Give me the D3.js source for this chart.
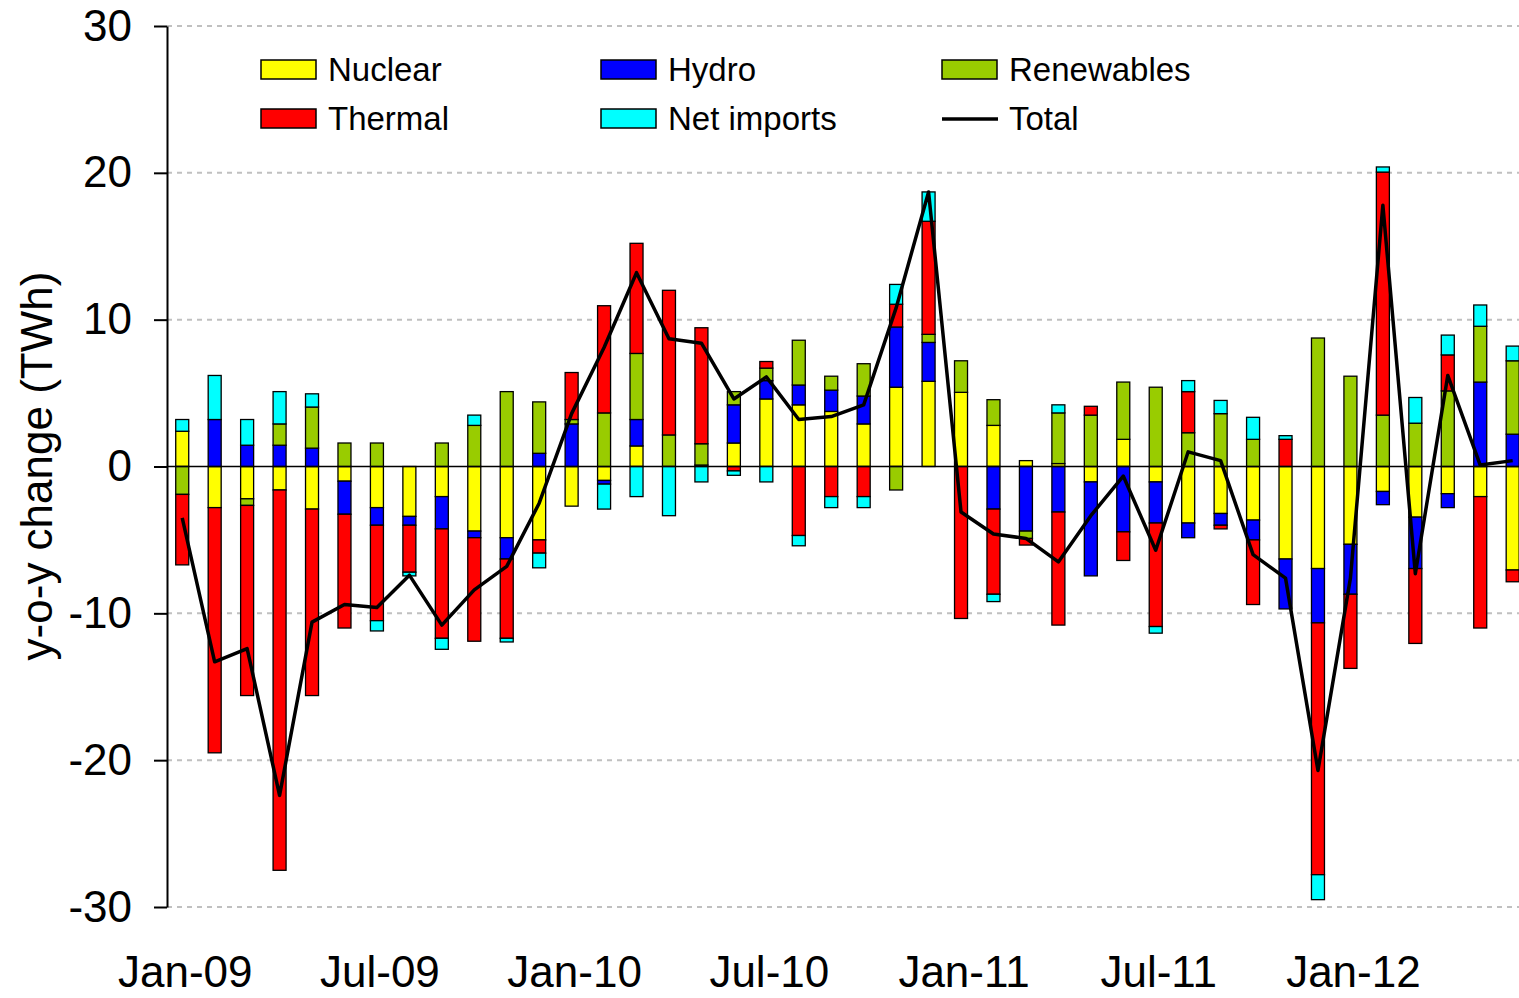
<html>
<head>
<meta charset="utf-8">
<style>
  body { margin: 0; background: #fff; }
  text { font-family: "Liberation Sans", Arial, sans-serif; fill: #000; }
</style>
</head>
<body>
<div id="chartContainer"></div>
<script src="https://cdnjs.cloudflare.com/ajax/libs/d3/7.8.5/d3.min.js"></script>
<script type="text/javascript">
  // Months on the category axis (Jan-09 .. Jun-12)
  var months = ["Jan-09","Feb-09","Mar-09","Apr-09","May-09","Jun-09","Jul-09","Aug-09","Sep-09","Oct-09","Nov-09","Dec-09",
                "Jan-10","Feb-10","Mar-10","Apr-10","May-10","Jun-10","Jul-10","Aug-10","Sep-10","Oct-10","Nov-10","Dec-10",
                "Jan-11","Feb-11","Mar-11","Apr-11","May-11","Jun-11","Jul-11","Aug-11","Sep-11","Oct-11","Nov-11","Dec-11",
                "Jan-12","Feb-12","Mar-12","Apr-12","May-12","Jun-12"];

  // y-o-y change per source (TWh)
  var nuclear = [2.4,-2.8,-2.2,-1.6,-2.9,-1.0,-2.8,-3.4,-2.05,-4.4,-4.85,-5.0,
                 -2.7,-0.95,1.4,0,0.1,1.6,4.6,4.2,3.75,2.9,5.4,5.8,
                 5.05,2.8,0.4,0.2,-1.05,1.85,-1.05,-3.85,-3.2,-3.65,-6.3,-6.95,
                 -5.3,-1.7,-3.45,-1.85,-2.05,-7.05];
  var thermal = [-4.8,-16.7,-12.95,-25.9,-12.7,-7.75,-6.5,-3.2,-7.45,-7.05,-5.4,-0.9,
                 3.2,7.3,7.5,9.85,7.9,-0.3,0.45,-4.7,-2.05,-2.05,1.55,7.7,
                 -10.35,-5.8,-0.45,-7.7,0.6,-1.95,-7.05,2.8,-0.25,-4.4,1.85,-17.15,
                 -5.05,16.55,-5.1,2.45,-8.95,-0.8];
  var hydro = [0,3.2,1.45,1.45,1.25,-2.25,-1.2,-0.6,-2.2,-0.45,-1.45,0.9,
               2.9,-0.25,1.8,0,0,2.6,1.25,1.35,1.45,1.9,4.1,2.65,
               0,-2.9,-4.4,-3.1,-6.4,-4.45,-2.8,-1.0,-0.8,-1.35,-3.4,-3.7,
               -3.4,-0.9,-3.5,-0.95,5.75,2.2];
  var renewables = [-1.9,0,-0.45,1.45,2.8,1.6,1.6,0,1.6,2.8,5.1,3.5,
                    0.3,3.65,4.5,2.15,1.45,0.9,0.85,3.05,0.95,2.2,-1.6,0.55,
                    2.15,1.75,-0.5,3.45,3.5,3.9,5.4,2.3,3.6,1.85,0,8.75,
                    6.15,3.5,2.95,5.15,3.8,5.0];
  var netImports = [0.8,3.0,1.75,2.2,0.9,0,-0.7,-0.25,-0.75,0.7,-0.25,-1.0,
                    0,-1.7,-2.05,-3.35,-1.05,-0.3,-1.05,-0.7,-0.75,-0.75,1.35,2.0,
                    0,-0.5,0,0.55,0,0,-0.45,0.75,0.9,1.5,0.25,-1.7,
                    0,0.35,1.75,1.35,1.45,1.0];
  var total = [-3.5,-13.3,-12.4,-22.4,-10.6,-9.4,-9.6,-7.4,-10.8,-8.4,-6.8,-2.5,
               3.6,8.1,13.2,8.7,8.4,4.6,6.1,3.2,3.4,4.2,10.8,18.7,
               -3.1,-4.6,-4.9,-6.5,-3.35,-0.65,-5.7,1.0,0.4,-6.0,-7.6,-20.7,
               -7.6,17.8,-7.3,6.2,0.1,0.4];

  var yTicks = [-30, -20, -10, 0, 10, 20, 30];
  var xLabels = ["Jan-09","Jul-09","Jan-10","Jul-10","Jan-11","Jul-11","Jan-12"];

  // stacking order (bottom to top on each side of zero)
  var series = [
    { key: "Nuclear",     values: nuclear,    color: "#ffff00" },
    { key: "Hydro",       values: hydro,      color: "#0000ff" },
    { key: "Renewables",  values: renewables, color: "#99cc00" },
    { key: "Thermal",     values: thermal,    color: "#ff0000" },
    { key: "Net imports", values: netImports, color: "#00ffff" }
  ];

  var W = 1519, H = 998;
  var svg = d3.select("#chartContainer").append("svg")
      .attr("width", W).attr("height", H);

  var x = d3.scaleBand().domain(months).range([166, 166 + months.length * 32.45]);
  var y = d3.scaleLinear().domain([-30, 30]).range([907, 26]);
  var barW = 13;

  // gridlines
  svg.append("g").selectAll("line")
    .data(yTicks.filter(function (d) { return d !== 0; }))
    .enter().append("line")
      .attr("x1", 167).attr("x2", W)
      .attr("y1", function (d) { return y(d); })
      .attr("y2", function (d) { return y(d); })
      .style("stroke", "#c0c0c0")
      .style("stroke-width", 2)
      .style("stroke-dasharray", "5,5");

  // stacked data
  var table = months.map(function (m, i) {
    var row = { month: m };
    series.forEach(function (s) { row[s.key] = s.values[i]; });
    return row;
  });
  var stack = d3.stack()
    .keys(series.map(function (s) { return s.key; }))
    .offset(d3.stackOffsetDiverging);
  var stacked = stack(table);

  // bars
  svg.append("g").selectAll("g")
    .data(stacked)
    .enter().append("g")
      .style("fill", function (d, i) { return series[i].color; })
    .selectAll("rect")
    .data(function (d) { return d.filter(function (p) { return p[1] !== p[0]; }); })
    .enter().append("rect")
      .attr("x", function (d) { return x(d.data.month) + x.bandwidth() / 2 - barW / 2; })
      .attr("width", barW)
      .attr("y", function (d) { return y(Math.max(d[0], d[1])); })
      .attr("height", function (d) { return Math.abs(y(d[0]) - y(d[1])); })
      .style("stroke", "#000")
      .style("stroke-width", 1.3);

  // zero line
  svg.append("line")
    .attr("x1", 167).attr("x2", W)
    .attr("y1", y(0)).attr("y2", y(0))
    .style("stroke", "#000").style("stroke-width", 1.5);

  // total line
  var line = d3.line()
    .x(function (d, i) { return x(months[i]) + x.bandwidth() / 2; })
    .y(function (d) { return y(d); });
  svg.append("path")
    .datum(total)
    .attr("d", line)
    .style("fill", "none")
    .style("stroke", "#000")
    .style("stroke-width", 3.5)
    .style("stroke-linejoin", "round");

  // y axis (plain hyphen for negatives, like the original)
  var yAxis = d3.axisLeft(y).tickValues(yTicks).tickSize(13).tickSizeOuter(0).tickPadding(22)
    .tickFormat(function (d) { return String(d); });
  var yg = svg.append("g").attr("transform", "translate(167,0)").call(yAxis);
  yg.select(".domain").style("stroke", "#000").style("stroke-width", 2);
  yg.selectAll(".tick line").style("stroke", "#000").style("stroke-width", 2);
  yg.selectAll(".tick text")
    .style("font-size", "44px")
    .style("font-family", "'Liberation Sans', Arial, sans-serif");

  svg.append("text")
    .attr("transform", "translate(52,466) rotate(-90)")
    .attr("text-anchor", "middle")
    .style("font-size", "44px")
    .text("y-o-y change (TWh)");

  // x labels every six months
  svg.append("g").selectAll("text")
    .data(xLabels)
    .enter().append("text")
      .attr("x", function (d) { return x(d) + x.bandwidth() / 2 + 3; })
      .attr("y", 987)
      .attr("text-anchor", "middle")
      .style("font-size", "44px")
      .text(function (d) { return d; });

  // legend
  var legendItems = [
    { key: "Nuclear",     color: "#ffff00", col: 0, row: 0 },
    { key: "Thermal",     color: "#ff0000", col: 0, row: 1 },
    { key: "Hydro",       color: "#0000ff", col: 1, row: 0 },
    { key: "Net imports", color: "#00ffff", col: 1, row: 1 },
    { key: "Renewables",  color: "#99cc00", col: 2, row: 0 },
    { key: "Total",       color: null,      col: 2, row: 1 }
  ];
  var colX = [261, 601, 942];
  var rowY = [69, 118];
  var lg = svg.append("g").selectAll("g")
    .data(legendItems)
    .enter().append("g")
      .attr("transform", function (d) { return "translate(" + colX[d.col] + "," + rowY[d.row] + ")"; });
  lg.filter(function (d) { return d.color; })
    .append("rect")
      .attr("x", 0).attr("y", -9)
      .attr("width", 55).attr("height", 19)
      .style("fill", function (d) { return d.color; })
      .style("stroke", "#000").style("stroke-width", 1.5);
  lg.filter(function (d) { return !d.color; })
    .append("line")
      .attr("x1", 0).attr("x2", 56).attr("y1", 1).attr("y2", 1)
      .style("stroke", "#000").style("stroke-width", 3.5);
  lg.append("text")
    .attr("x", 67).attr("y", 12)
    .style("font-size", "33px")
    .text(function (d) { return d.key; });
</script>
</body>
</html>
